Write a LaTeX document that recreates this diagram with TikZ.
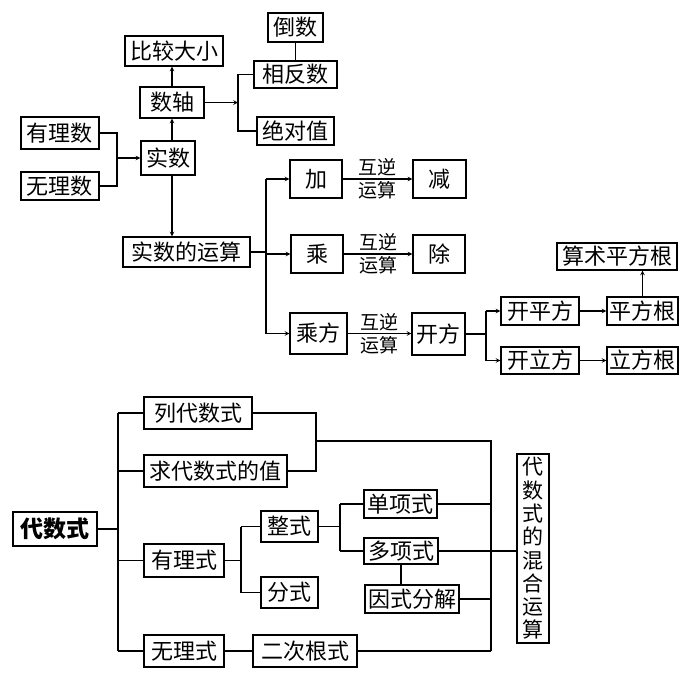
\documentclass[tikz,border=0pt]{standalone}
\usepackage{fontspec}
\setmainfont{Noto Sans CJK SC}
\usetikzlibrary{arrows}
\tikzset{
	box/.style={draw, line width=1.1pt, inner sep=1pt, minimum height=30pt, font=\fontsize{22}{26}\selectfont},
	link/.style={line width=1.1pt},
	arr/.style={line width=1.1pt, ->, >=stealth},
	tag/.style={inner sep=2pt, font=\fontsize{19}{22}\selectfont}
}
\begin{document}
\begin{tikzpicture}[x=1pt,y=-1pt]
\useasboundingbox (0,0) rectangle (688,678);
% real numbers
\node[box, minimum width=55, minimum height=29] at (295.5,27.5) (daoshu) {倒数};
\node[box, minimum width=98] at (174,51) (bijiao) {比较大小};
\node[box, minimum width=83, minimum height=27] at (295.5,74.5) (xiangfan) {相反数};
\node[box, minimum width=64, minimum height=31] at (172,102.5) (shuzhou) {数轴};
\node[box, minimum width=77, minimum height=28] at (295.5,131) (jueduizhi) {绝对值};
\node[box, minimum width=78, minimum height=32] at (60,133) (youlishu) {有理数};
\node[box, minimum width=54, minimum height=34] at (168,158) (shishu) {实数};
\node[box, minimum width=78, minimum height=28] at (60,186) (wulishu) {无理数};
\node[box, minimum width=127] at (186.5,252) (yunsuan) {实数的运算};
\node[box, minimum width=52, minimum height=38] at (316,179) (jia) {加};
\node[box, minimum width=52, minimum height=38] at (317,254) (cheng) {乘};
\node[box, minimum width=57, minimum height=41] at (318.5,333.5) (chengfang) {乘方};
\node[box, minimum width=53, minimum height=38] at (439.5,179) (jian) {减};
\node[box, minimum width=52, minimum height=38] at (439,254) (chu) {除};
\node[box, minimum width=53, minimum height=42] at (438.5,334) (kaifang) {开方};
\node[box, minimum width=78, minimum height=28] at (540,311) (kaiping) {开平方};
\node[box, minimum width=78, minimum height=27] at (540,360.5) (kaili) {开立方};
\node[box, minimum width=71, minimum height=28] at (642.5,311) (pinggen) {平方根};
\node[box, minimum width=71, minimum height=27] at (642.5,360.5) (ligen) {立方根};
\node[box, minimum width=120, minimum height=27] at (617,256.5) (suanshu) {算术平方根};
\coordinate (j1) at (117,158);
\coordinate (j2) at (238,102.5);
\coordinate (j3) at (266,252);
\coordinate (j4) at (486,334);
\draw[link] (youlishu.east) -| (j1) |- (wulishu.east);
\draw[arr] (j1) -- (shishu.west);
\draw[arr] (shishu.north -| shuzhou) -- (shuzhou.south);
\draw[arr] (shuzhou.north) -- (shuzhou.north |- bijiao.south);
\draw[arr] (shishu.south -| shuzhou) -- (yunsuan.north -| shuzhou);
\draw[arr] (shuzhou.east) -- (j2);
\draw[link] (xiangfan.west) -| (j2) |- (jueduizhi.west);
\draw[link] (daoshu.south) -- (xiangfan.north);
\draw[link] (yunsuan.east) -- (j3);
\draw[link] (j3 |- jia) -- (j3 |- chengfang);
\draw[arr] (j3 |- jia) -- (jia.west);
\draw[arr] (j3 |- cheng) -- (cheng.west);
\draw[arr] (j3 |- chengfang) -- (chengfang.west);
\foreach \a/\b in {jia/jian, cheng/chu, chengfang/kaifang}
	\draw[arr] (\a.east) -- (\a.east -| \b.west) node[tag, midway, above] {互逆} node[tag, midway, below] {运算};
\draw[link] (kaifang.east) -- (j4);
\draw[link] (j4 |- kaiping) -- (j4 |- kaili);
\draw[arr] (j4 |- kaiping) -- (kaiping.west);
\draw[arr] (j4 |- kaili) -- (kaili.west);
\draw[arr] (kaiping.east) -- (pinggen.west);
\draw[arr] (kaili.east) -- (ligen.west);
\draw[arr] (pinggen.north) -- (pinggen.north |- suanshu.south);
% algebraic expressions
\node[box, minimum width=108, minimum height=32] at (198,413) (lie) {列代数式};
\node[box, minimum width=143, minimum height=32] at (215.5,471) (qiu) {求代数式的值};
\node[box, minimum width=84, minimum height=34, font=\fontsize{23}{26}\selectfont\bfseries] at (55,529) (daishushi) {代数式};
\node[box, minimum width=80, minimum height=33] at (184,560.5) (youlishi) {有理式};
\node[box, minimum width=57, minimum height=31] at (289.5,526.5) (zhengshi) {整式};
\node[box, minimum width=57, minimum height=31] at (289.5,592.5) (fenshi) {分式};
\node[box, minimum width=80, minimum height=32] at (184,651) (wulishi) {无理式};
\node[box, minimum width=104, minimum height=32] at (305,651) (erci) {二次根式};
\node[box, minimum width=73, minimum height=28] at (400.5,504) (danxiang) {单项式};
\node[box, minimum width=74, minimum height=26] at (401,551) (duoxiang) {多项式};
\node[box, minimum width=94, minimum height=28] at (412,599) (yinshi) {因式分解};
\node[box, minimum width=32, minimum height=189, align=center, font=\fontsize{21}{23.3}\selectfont] at (533,548.5) (hunhe) {代\\数\\式\\的\\混\\合\\运\\算};
\coordinate (k1) at (118,529);
\coordinate (k2) at (316,441);
\coordinate (k3) at (491,441);
\coordinate (k4) at (241,560.5);
\coordinate (k5) at (340,526.5);
\draw[link] (daishushi.east) -- (k1);
\draw[link] (k1 |- lie) -- (k1 |- wulishi);
\foreach \n in {lie, qiu, youlishi, wulishi}
	\draw[link] (k1 |- \n) -- (\n.west);
\draw[link] (lie.east) -| (k2) |- (qiu.east);
\draw[link] (k2) -- (k3) -- (k3 |- erci);
\draw[link] (youlishi.east) -- (k4);
\draw[link] (k4 |- zhengshi) -- (k4 |- fenshi);
\draw[link] (k4 |- zhengshi) -- (zhengshi.west);
\draw[link] (k4 |- fenshi) -- (fenshi.west);
\draw[link] (zhengshi.east) -- (k5);
\draw[link] (k5 |- danxiang) -- (k5 |- duoxiang);
\draw[link] (k5 |- danxiang) -- (danxiang.west);
\draw[link] (k5 |- duoxiang) -- (duoxiang.west);
\draw[link] (duoxiang.south) -- (duoxiang.south |- yinshi.north);
\draw[link] (danxiang.east) -- (k3 |- danxiang);
\draw[link] (duoxiang.east) -- (duoxiang.east -| hunhe.west);
\draw[link] (yinshi.east) -- (k3 |- yinshi);
\draw[link] (erci.east) -- (k3 |- erci);
\draw[link] (wulishi.east) -- (erci.west);
\end{tikzpicture}
\end{document}
